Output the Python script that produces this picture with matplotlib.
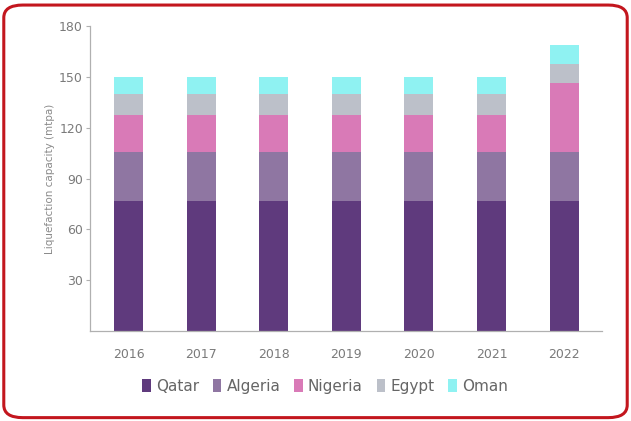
import numpy as np
import matplotlib.pyplot as plt
from matplotlib.patches import FancyBboxPatch

years = ['2016', '2017', '2018', '2019', '2020', '2021', '2022']
qatar = [77, 77, 77, 77, 77, 77, 77]
algeria = [28.4, 28.4, 28.4, 28.4, 28.4, 28.4, 28.4]
nigeria = [22.4, 22.4, 22.4, 22.4, 22.4, 22.4, 40.9]
egypt = [12.2, 12.2, 12.2, 12.2, 12.2, 12.2, 11.6]
oman = [10.2, 10.2, 10.2, 10.2, 10.2, 10.2, 10.8]

series = [('Qatar', qatar, '#5f3a7d'),
          ('Algeria', algeria, '#8f76a2'),
          ('Nigeria', nigeria, '#d97ab7'),
          ('Egypt', egypt, '#bcc0c9'),
          ('Oman', oman, '#8ff2f2')]

fig = plt.figure(figsize=(6.31, 4.21), dpi=100)
ax = fig.add_axes([0.1426, 0.2138, 0.954 - 0.1426, 0.938 - 0.2138])

x = np.arange(len(years))
bottom = np.zeros(len(years))
for name, vals, col in series:
    ax.bar(x, vals, width=0.4, bottom=bottom, color=col, label=name)
    bottom += np.array(vals)

ax.set_xlim(-0.53, 6.52)
ax.set_ylim(0, 180)
ax.set_yticks([30, 60, 90, 120, 150, 180])
ax.set_xticks(x)
ax.set_xticklabels(years)
for s in ['top', 'right']:
    ax.spines[s].set_visible(False)
for s in ['left', 'bottom']:
    ax.spines[s].set_color('#b0b0b0')
    ax.spines[s].set_linewidth(0.9)
ax.tick_params(axis='y', length=3, width=0.8, color='#b0b0b0', labelsize=9,
               labelcolor='#7a7a7a', pad=2)
ax.tick_params(axis='x', length=0, labelsize=9, labelcolor='#7a7a7a', pad=12)
ax.set_ylabel('Liquefaction capacity (mtpa)', fontsize=7.5, color='#8a8a8a',
              labelpad=3)

leg = fig.legend(loc='center', bbox_to_anchor=(0.515, 0.083), ncol=5,
                 frameon=False, fontsize=11, handlelength=0.55,
                 handleheight=0.9, handletextpad=0.35, columnspacing=0.9,
                 labelcolor='#666666')

border = FancyBboxPatch((0.006, 0.008), 0.988, 0.98,
                        boxstyle='round,pad=0,rounding_size=0.03',
                        transform=fig.transFigure, fill=False,
                        edgecolor='#c3161e', linewidth=2.2)
fig.patches.append(border)

fig.savefig('out.png', dpi=100)
